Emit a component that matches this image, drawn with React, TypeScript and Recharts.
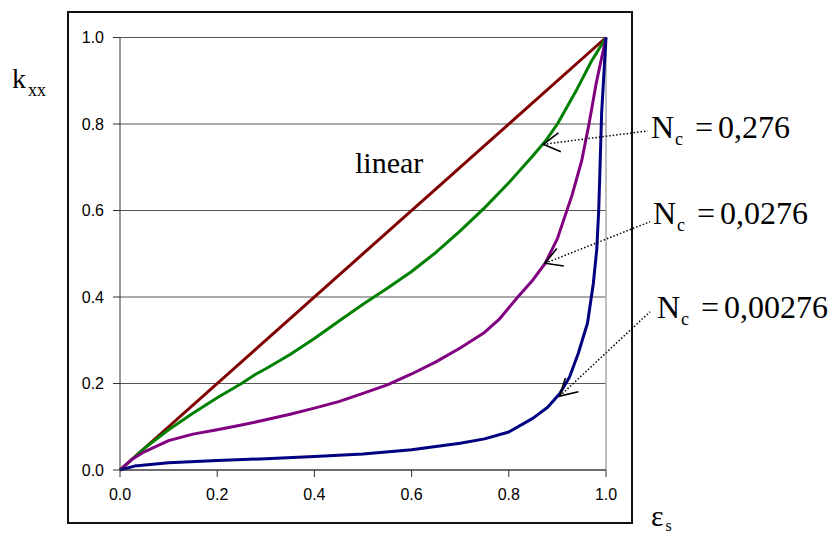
import { LineChart, Line, XAxis, YAxis, CartesianGrid, ReferenceLine } from "recharts";

// eps_s values and k_xx values, one pair of arrays per curve
const linearX = [0, 1];
const linearY = [0, 1];

const n276X = [0, 0.05, 0.1, 0.15, 0.2, 0.25, 0.28, 0.3, 0.35, 0.4, 0.45, 0.5, 0.55, 0.6, 0.65, 0.7, 0.75, 0.8, 0.85, 0.875, 0.9, 0.94, 0.97, 1];
const n276Y = [0, 0.05, 0.093, 0.131, 0.167, 0.2, 0.222, 0.234, 0.267, 0.304, 0.344, 0.383, 0.42, 0.459, 0.503, 0.553, 0.606, 0.664, 0.727, 0.76, 0.8, 0.88, 0.945, 1];

const n0276X = [0, 0.025, 0.05, 0.1, 0.15, 0.2, 0.25, 0.3, 0.35, 0.4, 0.45, 0.5, 0.55, 0.6, 0.65, 0.7, 0.75, 0.78, 0.82, 0.85, 0.875, 0.9, 0.93, 0.95, 0.965, 0.98, 1];
const n0276Y = [0, 0.025, 0.042, 0.068, 0.083, 0.093, 0.104, 0.116, 0.129, 0.143, 0.158, 0.177, 0.197, 0.222, 0.25, 0.282, 0.318, 0.348, 0.402, 0.44, 0.478, 0.535, 0.635, 0.715, 0.8, 0.895, 1];

const n00276X = [0, 0.03, 0.1, 0.2, 0.3, 0.4, 0.5, 0.6, 0.7, 0.75, 0.8, 0.85, 0.88, 0.905, 0.925, 0.943, 0.962, 0.974, 0.981, 0.985, 0.988, 0.991, 1];
const n00276Y = [0, 0.009, 0.017, 0.022, 0.026, 0.031, 0.037, 0.047, 0.062, 0.072, 0.088, 0.12, 0.145, 0.177, 0.215, 0.27, 0.34, 0.432, 0.51, 0.6, 0.71, 0.825, 1];

const ticks = [0, 0.2, 0.4, 0.6, 0.8, 1];

// arrow tip on the curve, and where the dotted line ends by the label
const arrowTipX = [0.871, 0.8745, 0.905];
const arrowTipY = [0.753, 0.478, 0.171];
const arrowTailX = [1.086, 1.0905, 1.0905];
const arrowTailY = [0.784, 0.574, 0.366];

const labelValues = ["0,276", "0,0276", "0,00276"];

const zip = (xs: number[], ys: number[]) => xs.map((x, i) => ({ x, y: ys[i] }));

const series = [
  { name: "linear", data: zip(linearX, linearY), color: "#800000" },
  { name: "0,276", data: zip(n276X, n276Y), color: "#008000" },
  { name: "0,0276", data: zip(n0276X, n0276Y), color: "#800080" },
  { name: "0,00276", data: zip(n00276X, n00276Y), color: "#000080" },
];

const serif = "'Liberation Serif', 'Times New Roman', serif";
const sans = "'Liberation Sans', Arial, sans-serif";

const ArrowShape = (props: any) => {
  const { x1, y1, x2, y2 } = props;
  const ang = Math.atan2(y2 - y1, x2 - x1);
  const len = 19;
  const spread = (30 * Math.PI) / 180;
  const a1 = ang - spread;
  const a2 = ang + spread;
  return (
    <g>
      <line x1={x1} y1={y1} x2={x2} y2={y2} stroke="#000" strokeWidth={1.5} strokeDasharray="1.5 2" />
      <polyline
        points={`${x1 + len * Math.cos(a1)},${y1 + len * Math.sin(a1)} ${x1},${y1} ${x1 + len * Math.cos(a2)},${y1 + len * Math.sin(a2)}`}
        fill="none"
        stroke="#000"
        strokeWidth={1.6}
      />
    </g>
  );
};

const XTick = (props: any) => {
  const { x, y, payload } = props;
  return (
    <text x={x} y={y + 21} textAnchor="middle" fontFamily={sans} fontSize={16} fill="#000">
      {Number(payload.value).toFixed(1)}
    </text>
  );
};

const YTick = (props: any) => {
  const { y, payload } = props;
  return (
    <text x={104} y={y + 5.7} textAnchor="end" fontFamily={sans} fontSize={16} fill="#000">
      {Number(payload.value).toFixed(1)}
    </text>
  );
};

// label text positions (baseline), same order as labelValues
const labelPos = [
  { x: 651, y: 138 },
  { x: 653, y: 224 },
  { x: 657, y: 318 },
];

export default function App() {
  return (
    <div style={{ position: "absolute", left: 0, top: 0, width: 832, height: 533, background: "#fff" }}>
      <div
        style={{
          position: "absolute",
          left: 67,
          top: 11,
          width: 566,
          height: 513,
          border: "2px solid #111",
          boxSizing: "border-box",
        }}
      />
      <div style={{ position: "absolute", left: 0, top: 0 }}>
        <LineChart width={832} height={533} margin={{ top: 37.5, right: 226, left: 60, bottom: 33 }}>
          <CartesianGrid horizontal vertical={false} stroke="#555" strokeWidth={1} />
          <XAxis
            type="number"
            dataKey="x"
            domain={[0, 1]}
            ticks={ticks}
            height={30}
            tickSize={7}
            axisLine={{ stroke: "#333" }}
            tickLine={{ stroke: "#333" }}
            tick={XTick}
            allowDuplicatedCategory={false}
          />
          <YAxis
            type="number"
            dataKey="y"
            domain={[0, 1]}
            ticks={ticks}
            width={60}
            tickSize={7}
            axisLine={{ stroke: "#333" }}
            tickLine={{ stroke: "#333" }}
            tick={YTick}
          />
          <ReferenceLine x={1} stroke="#aaa" strokeWidth={1.5} />
          {series.map((s) => (
            <Line
              key={s.name}
              data={s.data}
              dataKey="y"
              type="linear"
              stroke={s.color}
              strokeWidth={3}
              strokeLinejoin="round"
              dot={false}
              isAnimationActive={false}
            />
          ))}
          {arrowTipX.map((tx, i) => (
            <ReferenceLine
              key={`arrow-${i}`}
              segment={[
                { x: tx, y: arrowTipY[i] },
                { x: arrowTailX[i], y: arrowTailY[i] },
              ]}
              ifOverflow="visible"
              shape={ArrowShape}
            />
          ))}
        </LineChart>
      </div>
      <svg width={832} height={533} style={{ position: "absolute", left: 0, top: 0, pointerEvents: "none" }}>
        <text x={12} y={88} fontFamily={serif} fontSize={28} fill="#000">
          k
          <tspan fontSize={18} dy={8} dx={2}>
            xx
          </tspan>
        </text>
        <text x={355} y={173} fontFamily={serif} fontSize={30} fill="#000">
          linear
        </text>
        <text x={651} y={526} fontFamily={serif} fontSize={30} fill="#000">
          ε
          <tspan fontSize={16} dy={5} dx={2}>
            s
          </tspan>
        </text>
        {labelValues.map((v, i) => (
          <text key={v} x={labelPos[i].x} y={labelPos[i].y} fontFamily={serif} fontSize={32} fill="#000">
            N
            <tspan fontSize={18} dy={7} dx={1}>
              c
            </tspan>
            <tspan x={labelPos[i].x + 44} dy={-7}>
              =
            </tspan>
            <tspan x={labelPos[i].x + 67}>{v}</tspan>
          </text>
        ))}
      </svg>
    </div>
  );
}
